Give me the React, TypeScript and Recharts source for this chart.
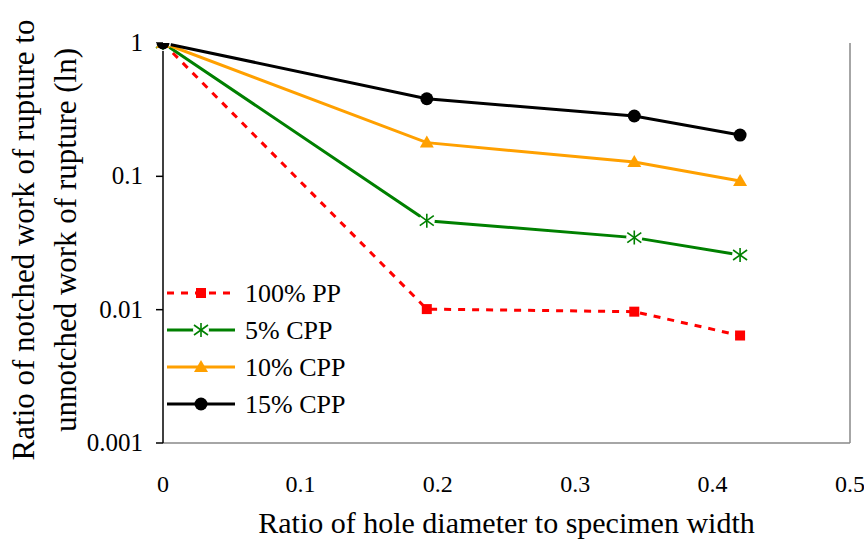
import React from "react";
import { LineChart, Line, XAxis, YAxis, ReferenceLine, Legend } from "recharts";

const holeRatio = [0, 0.192, 0.343, 0.42];
const pp100 = [1, 0.0101, 0.00966, 0.0064];
const cpp5 = [1, 0.0465, 0.0347, 0.0257];
const cpp10 = [1, 0.179, 0.128, 0.0923];
const cpp15 = [1, 0.382, 0.2835, 0.204];

const xTicks = [0, 0.1, 0.2, 0.3, 0.4, 0.5];
const yTicks = [0.001, 0.01, 0.1, 1];

const FONT = "Liberation Serif";

const data = holeRatio.map((x, i) => ({
  x,
  pp100: pp100[i],
  cpp5: cpp5[i],
  cpp10: cpp10[i],
  cpp15: cpp15[i],
}));

type Shape = "square" | "star" | "triangle" | "circle";

const series: { key: string; name: string; color: string; dash?: string; shape: Shape }[] = [
  { key: "pp100", name: "100% PP", color: "#ff0000", dash: "7 7", shape: "square" },
  { key: "cpp5", name: "5% CPP", color: "#008000", shape: "star" },
  { key: "cpp10", name: "10% CPP", color: "#ffa000", shape: "triangle" },
  { key: "cpp15", name: "15% CPP", color: "#000000", shape: "circle" },
];

function Marker({ cx, cy, shape, color }: { cx: number; cy: number; shape: Shape; color: string }) {
  if (cx == null || cy == null) return null;
  if (shape === "square") return <rect x={cx - 5} y={cy - 5} width={10} height={10} fill={color} />;
  if (shape === "triangle")
    return <polygon points={`${cx},${cy - 7} ${cx + 7},${cy + 5} ${cx - 7},${cy + 5}`} fill={color} />;
  if (shape === "circle") return <circle cx={cx} cy={cy} r={6.5} fill={color} />;
  return (
    <g stroke={color} strokeWidth={1.6}>
      <circle cx={cx} cy={cy} r={8} fill="#fff" stroke="none" />
      <line x1={cx} y1={cy - 7} x2={cx} y2={cy + 7} />
      <line x1={cx - 7} y1={cy - 5} x2={cx + 7} y2={cy + 5} />
      <line x1={cx - 7} y1={cy + 5} x2={cx + 7} y2={cy - 5} />
    </g>
  );
}

function LegendBox() {
  return (
    <svg width={200} height={150}>
      {series.map((s, i) => {
        const y = 15 + i * 37;
        return (
          <g key={s.key}>
            <line x1={0} y1={y} x2={68} y2={y} stroke={s.color} strokeWidth={3} strokeDasharray={s.dash} />
            <Marker cx={34} cy={y} shape={s.shape} color={s.color} />
            <text x={78} y={y + 9} fontSize={26} fontFamily={FONT} fill="#000">
              {s.name}
            </text>
          </g>
        );
      })}
    </svg>
  );
}

// x tick labels sit well below the plot, like Excel's "low" label position
function XTick({ x, y, payload }: any) {
  return (
    <text x={x} y={y + 49} textAnchor="middle" fontSize={24} fontFamily={FONT} fill="#000">
      {payload.value}
    </text>
  );
}

function YTick({ x, y, payload }: any) {
  return (
    <text x={x} y={y + 8} textAnchor="end" fontSize={25} fontFamily={FONT} fill="#000">
      {String(payload.value)}
    </text>
  );
}

function YTitle() {
  return (
    <text transform="rotate(-90, 34, 240)" x={34} y={240} textAnchor="middle" fontSize={31} fontFamily={FONT} fill="#000">
      <tspan x={34} dy={0}>Ratio of notched work of rupture to</tspan>
      <tspan x={34} dy={42}>unnotched work of rupture (ln)</tspan>
    </text>
  );
}

export default function App() {
  return (
    <div style={{ position: "absolute", left: 0, top: 0, background: "#fff" }}>
      <LineChart width={864} height={545} data={data} margin={{ top: 43, right: 14, bottom: 0, left: 0 }}>
        <XAxis
          dataKey="x"
          type="number"
          domain={[0, 0.5]}
          ticks={xTicks}
          tickLine={false}
          tickSize={0}
          axisLine={{ stroke: "#888", strokeWidth: 1.5 }}
          tickMargin={0}
          height={102}
          tick={<XTick />}
          label={{ value: "Ratio of hole diameter to specimen width", position: "insideBottom", offset: 12, fontSize: 30, fontFamily: FONT, fill: "#000" }}
        />
        <XAxis
          xAxisId="top"
          dataKey="x"
          type="number"
          orientation="top"
          mirror
          height={0}
          domain={[0, 0.5]}
          ticks={xTicks}
          tick={false}
          tickSize={7}
          axisLine={{ stroke: "#000", strokeWidth: 1.5 }}
          tickLine={{ stroke: "#000", strokeWidth: 1.5 }}
        />
        <YAxis
          scale="log"
          domain={[0.001, 1]}
          ticks={yTicks}
          allowDataOverflow
          width={163}
          tickSize={7}
          tickMargin={13}
          axisLine={{ stroke: "#000", strokeWidth: 1.5 }}
          tickLine={{ stroke: "#000", strokeWidth: 1.5 }}
          tick={<YTick />}
          label={<YTitle />}
        />
        <ReferenceLine x={0.5} stroke="#888" strokeWidth={1.5} />
        {series.map((s) => (
          <Line
            key={s.key}
            dataKey={s.key}
            name={s.name}
            stroke={s.color}
            strokeWidth={3}
            strokeDasharray={s.dash}
            isAnimationActive={false}
            dot={(p: any) => <Marker key={`${s.key}-${p.index}`} cx={p.cx} cy={p.cy} shape={s.shape} color={s.color} />}
            activeDot={false}
          />
        ))}
        <Legend
          layout="vertical"
          align="center"
          verticalAlign="middle"
          content={() => <LegendBox />}
          wrapperStyle={{ position: "absolute", left: 167, top: 278, width: 200, height: 150 }}
        />
      </LineChart>
    </div>
  );
}
